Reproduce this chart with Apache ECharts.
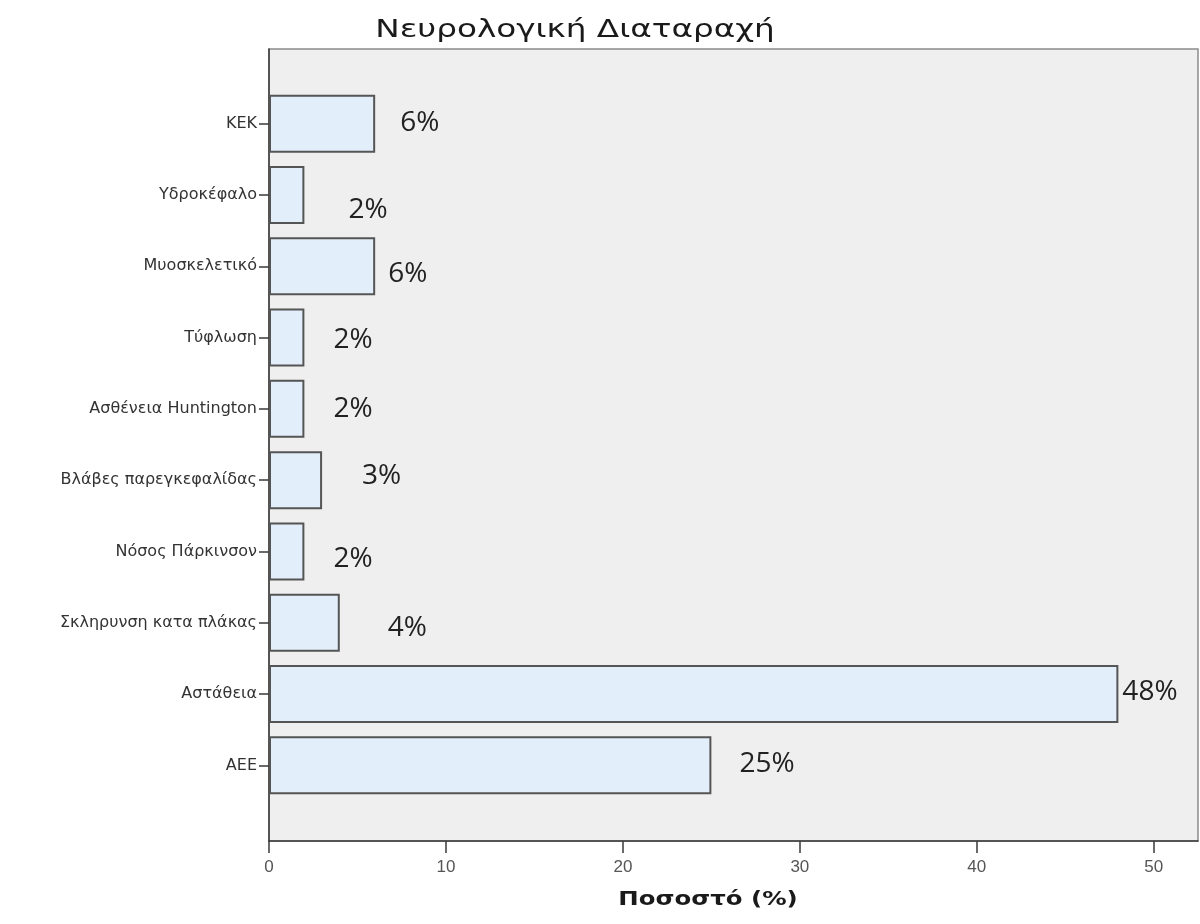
<!DOCTYPE html>
<html>
<head>
<meta charset="utf-8">
<script src="https://cdn.jsdelivr.net/npm/echarts@6/dist/echarts.min.js"></script>
<style>
  html, body { margin: 0; padding: 0; background: #ffffff; }
  #chart { width: 1200px; height: 924px; }
</style>
</head>
<body>
<div id="chart"></div>
<script>
// Categories, top to bottom
const categories = [
  'ΚΕΚ',
  'Υδροκέφαλο',
  'Μυοσκελετικό',
  'Τύφλωση',
  'Ασθένεια Huntington',
  'Βλάβες παρεγκεφαλίδας',
  'Νόσος Πάρκινσον',
  'Σκληρυνση κατα πλάκας',
  'Αστάθεια',
  'ΑΕΕ'
];
// Share of patients per neurological disorder (%)
const percentages = [6, 2, 6, 2, 2, 3, 2, 4, 48, 25];
// Tick values on the percentage axis
const xTicks = [0, 10, 20, 30, 40, 50];
const chartTitle = 'Νευρολογική Διαταραχή';
const xAxisTitle = 'Ποσοστό (%)';

// Hand-placed nudges [dx, dy] for each value label (px)
const labelNudges = [
  [20, -1], [39, 15], [8, 8], [24, 2], [24, 0],
  [35, -4], [24, 8], [43, 5], [-1, -2], [23, -1]
];

const X_MAX = 52.5;

const chart = echarts.init(document.getElementById('chart'), null, { renderer: 'canvas' });

const option = {
  backgroundColor: '#ffffff',
  animation: false,
  grid: [
    // framed plot area
    { left: 269, right: 2, top: 49, bottom: 83, show: true,
      backgroundColor: '#efefef', borderColor: '#8c8c8c', borderWidth: 1.5 },
    // inner band area holding the bars
    { left: 269, right: 2, top: 88, bottom: 123, show: false }
  ],
  xAxis: [
    {
      gridIndex: 0, type: 'value', min: 0, max: X_MAX,
      axisLine: { show: true, lineStyle: { color: '#3a3a3a', width: 1.5 } },
      axisTick: { show: true, customValues: xTicks, length: 12, lineStyle: { color: '#3a3a3a', width: 1.5 } },
      axisLabel: { customValues: xTicks, margin: 18, fontSize: 17,
        fontFamily: '"Liberation Sans Narrow", "Liberation Sans", sans-serif', color: '#555555' },
      splitLine: { show: false }
    },
    { gridIndex: 1, type: 'value', min: 0, max: X_MAX, show: false }
  ],
  yAxis: [
    {
      gridIndex: 0, type: 'value',
      axisLine: { show: true, lineStyle: { color: '#3a3a3a', width: 1.5 } },
      axisTick: { show: false }, axisLabel: { show: false }, splitLine: { show: false }
    },
    {
      gridIndex: 1, type: 'category', data: categories, inverse: true,
      axisLine: { show: false },
      axisTick: { show: true, alignWithLabel: true, length: 10, lineStyle: { color: '#3a3a3a', width: 1.5 } },
      axisLabel: { margin: 12, fontSize: 16, fontFamily: '"DejaVu Sans", sans-serif', color: '#333333' }
    }
  ],
  series: [
    {
      type: 'bar',
      xAxisIndex: 1, yAxisIndex: 1,
      barWidth: 58,
      data: percentages.map((v, i) => ({ value: v, label: { offset: labelNudges[i] } })),
      itemStyle: { color: '#e3eefb', borderColor: '#555555', borderWidth: 2 },
      label: {
        show: true, position: 'right', distance: 5,
        formatter: '{c}%',
        fontSize: 28, fontFamily: '"Open Sans", sans-serif', color: '#222222'
      }
    }
  ],
  graphic: [
    {
      type: 'text', x: 575, y: 31, scaleX: 1.36,
      style: { text: chartTitle, font: '24px "DejaVu Sans", sans-serif', fill: '#1a1a1a',
        textAlign: 'center', textVerticalAlign: 'middle' }
    },
    {
      type: 'text', x: 708, y: 900, scaleX: 1.22,
      style: { text: xAxisTitle, font: 'bold 20px "DejaVu Sans", sans-serif', fill: '#1a1a1a',
        textAlign: 'center', textVerticalAlign: 'middle' }
    }
  ]
};

chart.setOption(option);
</script>
</body>
</html>
